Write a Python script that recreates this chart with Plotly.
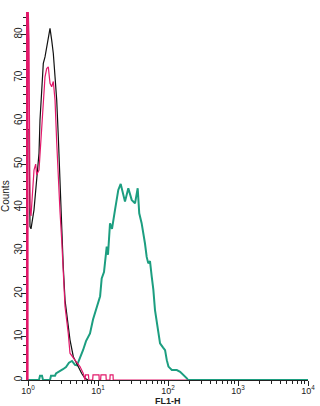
import plotly.graph_objects as go

# FL1-H channel values and counts
black_x = [1.0, 1.033, 1.068, 1.104, 1.218, 1.288, 1.358, 1.436, 1.484, 1.569, 1.654, 1.750,
           1.950, 2.063, 2.180, 2.300, 2.433, 2.571, 2.71, 2.80, 2.865, 3.03, 3.19, 3.38,
           3.76, 3.98, 4.44, 5.23, 5.85, 6.52, 7.20]
black_y = [58, 58, 35.5, 35, 39.4, 44, 48.6, 52.5, 60.2, 67.9, 73.3, 74.8,
           78.7, 81.4, 78.7, 75.6, 70.2, 64.8, 56.3, 50.2, 42.4, 35, 26.2, 18.5,
           12.3, 9.3, 5.4, 3.1, 1.5, 0.4, 0]

red_x = [1.0, 1.0, 1.033, 1.068, 1.104, 1.152, 1.218, 1.288, 1.331, 1.436, 1.484, 1.569,
         1.654, 1.750, 1.850, 1.950, 2.063, 2.180, 2.300, 2.433, 2.571, 2.71, 2.80, 2.865,
         3.03, 3.19, 3.38, 3.76, 3.98, 4.69, 5.53, 6.17, 6.52, 6.63, 7.31, 7.4, 8.4, 8.49,
         10.33, 10.4, 10.9, 11.03, 13.0, 13.1, 14.8, 14.9, 16.4, 16.5, 190]
red_y = [0, 88, 79, 40, 38, 44, 48.6, 50, 47.5, 48.6, 52.5, 57.9,
         64, 70.2, 72.1, 72.5, 68.7, 67.9, 69.1, 64.8, 55, 46, 41, 39,
         32.4, 24.7, 17, 10.8, 6.2, 4.6, 3.1, 1.5, 0, 1.2, 1.2, 0, 0, 1.2,
         1.2, 0, 0, 1.2, 1.2, 0, 0, 1.2, 1.2, 0, 0]

green_x = [1.0, 1.436, 1.484, 1.585, 1.638, 2.063, 2.131, 2.433, 2.512, 2.865, 3.16, 3.49,
           3.85, 4.25, 4.69, 5.01, 5.53, 6.11, 6.74, 7.69, 8.49, 9.70, 10.72, 11.29,
           12.18, 13.32, 13.89, 14.85, 15.85, 17.5, 19.5, 21.1, 23.0, 24.3, 27.1, 30.3,
           33.8, 36.9, 38.83, 42.0, 46.9, 49.6, 52.3, 55.3, 58.5, 61.7, 65.2, 72.8,
           77.0, 85.1, 90.8, 96.1, 101.5, 113.4, 133.6, 149.0, 166.4, 185.9, 193.1, 10000]
green_y = [0, 0, 1, 1, 0, 0, 1, 1, 1.5, 2, 2.5, 3,
           4, 4.4, 3.5, 3.4, 5, 6.9, 9, 10.8, 14, 17, 19.4, 23.5,
           25, 30.9, 29, 36.3, 35, 39.4, 44, 45.4, 42.4, 41.3, 44.4, 41.7,
           40.9, 44.4, 38.6, 36.3, 31.6, 28.5, 27, 27.5, 24, 21, 16.2, 11.6,
           8.5, 7.5, 6.9, 4.6, 3.1, 2.3, 2.3, 1.9, 1.2, 0.4, 0, 0]

x_tickvals = [1, 10, 100, 1000, 10000]
x_ticktext = ["10<sup>0</sup>", "10<sup>1</sup>", "10<sup>2</sup>", "10<sup>3</sup>", "10<sup>4</sup>"]
y_tickvals = [0, 10, 20, 30, 40, 50, 60, 70, 80]

GREEN = "#1c9e80"
RED = "#e2186a"
FONT = "Liberation Sans, Arial, sans-serif"

fig = go.Figure()
fig.add_trace(go.Scatter(x=green_x, y=green_y, mode="lines",
                         line=dict(color=GREEN, width=2), showlegend=False))
fig.add_trace(go.Scatter(x=black_x, y=black_y, mode="lines",
                         line=dict(color="#111111", width=1.2), showlegend=False))
fig.add_trace(go.Scatter(x=red_x, y=red_y, mode="lines",
                         line=dict(color=RED, width=1.2), showlegend=False))

fig.update_layout(
    width=320, height=406,
    margin=dict(l=28, r=12, t=12, b=26),
    plot_bgcolor="white", paper_bgcolor="white",
    font=dict(family=FONT, size=10, color="#222222"),
    xaxis=dict(
        type="log", range=[0, 4], automargin=False,
        tickvals=x_tickvals, ticktext=x_ticktext, ticklabelstandoff=-3,
        ticks="outside", ticklen=5, tickcolor="#222222", tickwidth=1,
        minor=dict(ticks="outside", ticklen=3, dtick="D1", tickcolor="#222222", showgrid=False),
        showline=True, linecolor="#222222", linewidth=1,
        showgrid=False, zeroline=False,
        tickfont=dict(size=9),
    ),
    yaxis=dict(
        range=[0, 85.2], automargin=False,
        tickvals=y_tickvals, tickangle=-90, ticklabelstandoff=-5,
        ticks="outside", ticklen=5, tickcolor="#222222", tickwidth=1,
        minor=dict(ticks="outside", ticklen=3, dtick=2, tickcolor="#222222", showgrid=False),
        showline=True, linecolor=RED, linewidth=2,
        showgrid=False, zeroline=False,
        tickfont=dict(size=10),
    ),
    annotations=[
        dict(text="Counts", xref="paper", yref="paper", x=-0.082, y=0.5,
             xanchor="center", yanchor="middle", textangle=-90, showarrow=False,
             font=dict(size=10)),
        dict(text="<b>FL1-H</b>", xref="paper", yref="paper", x=0.5, y=-0.057,
             xanchor="center", yanchor="middle", showarrow=False, borderpad=0,
             font=dict(size=9)),
    ],
)

fig.write_html("out.html")
